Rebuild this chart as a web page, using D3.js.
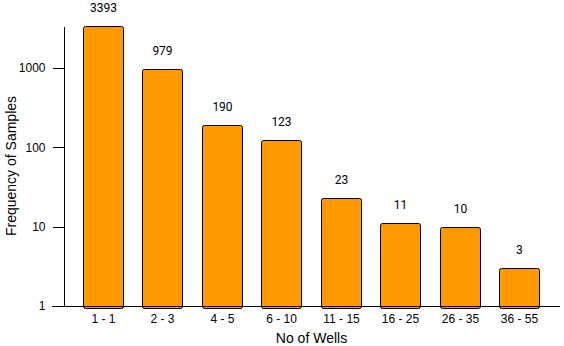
<!DOCTYPE html>
<html>
<head>
<meta charset="utf-8">
<script src="https://cdn.jsdelivr.net/npm/d3@7"></script>
<style>
  body { margin: 0; background: #fff; }
  svg { display: block; }
  .axis text { font-family: Arial, "Liberation Sans", sans-serif; font-size: 12px; fill: #000; }
  .axis path, .axis line { stroke: #000; shape-rendering: crispEdges; }
  .title { font-family: Arial, "Liberation Sans", sans-serif; font-size: 14px; fill: #000; }
  .val { font-family: Roboto, sans-serif; font-size: 12px; fill: #000; }
</style>
</head>
<body>
<svg width="564" height="346"></svg>
<script>
var categories = ["1 - 1", "2 - 3", "4 - 5", "6 - 10", "11 - 15", "16 - 25", "26 - 35", "36 - 55"];
var counts = [3393, 979, 190, 123, 23, 11, 10, 3];
var yTicks = [1, 10, 100, 1000];

var svg = d3.select("svg");

// plot area (named to avoid clashing with window.top)
var plotLeft = 63, plotRight = 560, plotTop = 26, plotBottom = 306;

var x = d3.scaleBand()
    .domain(categories)
    .range([plotLeft, plotRight])
    .paddingInner(0.327)
    .paddingOuter(0.345);

var y = d3.scaleLog()
    .domain([1, d3.max(counts)])
    .range([plotBottom, plotTop]);

// bars
svg.append("g").selectAll("rect")
  .data(counts)
  .enter().append("rect")
    .attr("x", function(d, i) { return Math.floor(x(categories[i])) + 0.5; })
    .attr("y", function(d) { return Math.round(y(d)) + 0.5; })
    .attr("width", Math.round(x.bandwidth()))
    .attr("height", function(d) { return plotBottom - Math.round(y(d)) + 2; })
    .attr("rx", 2)
    .attr("fill", "#ff9900")
    .attr("stroke", "#000")
    .attr("stroke-width", 1);

// value labels
svg.append("g").selectAll("text")
  .data(counts)
  .enter().append("text")
    .attr("class", "val")
    .attr("x", function(d, i) { return Math.floor(x(categories[i])) + x.bandwidth() / 2 + 0.5; })
    .attr("y", function(d) { return y(d) - 14; })
    .attr("text-anchor", "middle")
    .text(function(d) { return d; });

// y axis
svg.append("g")
    .attr("class", "axis")
    .attr("transform", "translate(" + (plotLeft + 0.5) + ",0)")
    .call(d3.axisLeft(y).tickValues(yTicks).tickFormat(d3.format("d")).tickSize(11).tickSizeOuter(0).tickPadding(7));

// x axis, line extends left past the y axis
var xAxis = svg.append("g")
    .attr("class", "axis")
    .attr("transform", "translate(0," + (plotBottom + 0.5) + ")")
    .call(d3.axisBottom(x).tickSize(0).tickPadding(8));
xAxis.select(".domain").attr("d", "M52,0H" + plotRight);
xAxis.selectAll(".tick").attr("transform", function(d) {
  return "translate(" + (Math.floor(x(d)) + x.bandwidth() / 2 + 0.5) + ",0)";
});

// axis titles
svg.append("text")
    .attr("class", "title")
    .attr("text-anchor", "middle")
    .attr("x", (plotLeft + plotRight) / 2)
    .attr("y", 343)
    .text("No of Wells");

svg.append("text")
    .attr("class", "title")
    .attr("text-anchor", "middle")
    .attr("transform", "translate(16," + (plotTop + plotBottom) / 2 + ") rotate(-90)")
    .text("Frequency of Samples");
</script>
</body>
</html>
